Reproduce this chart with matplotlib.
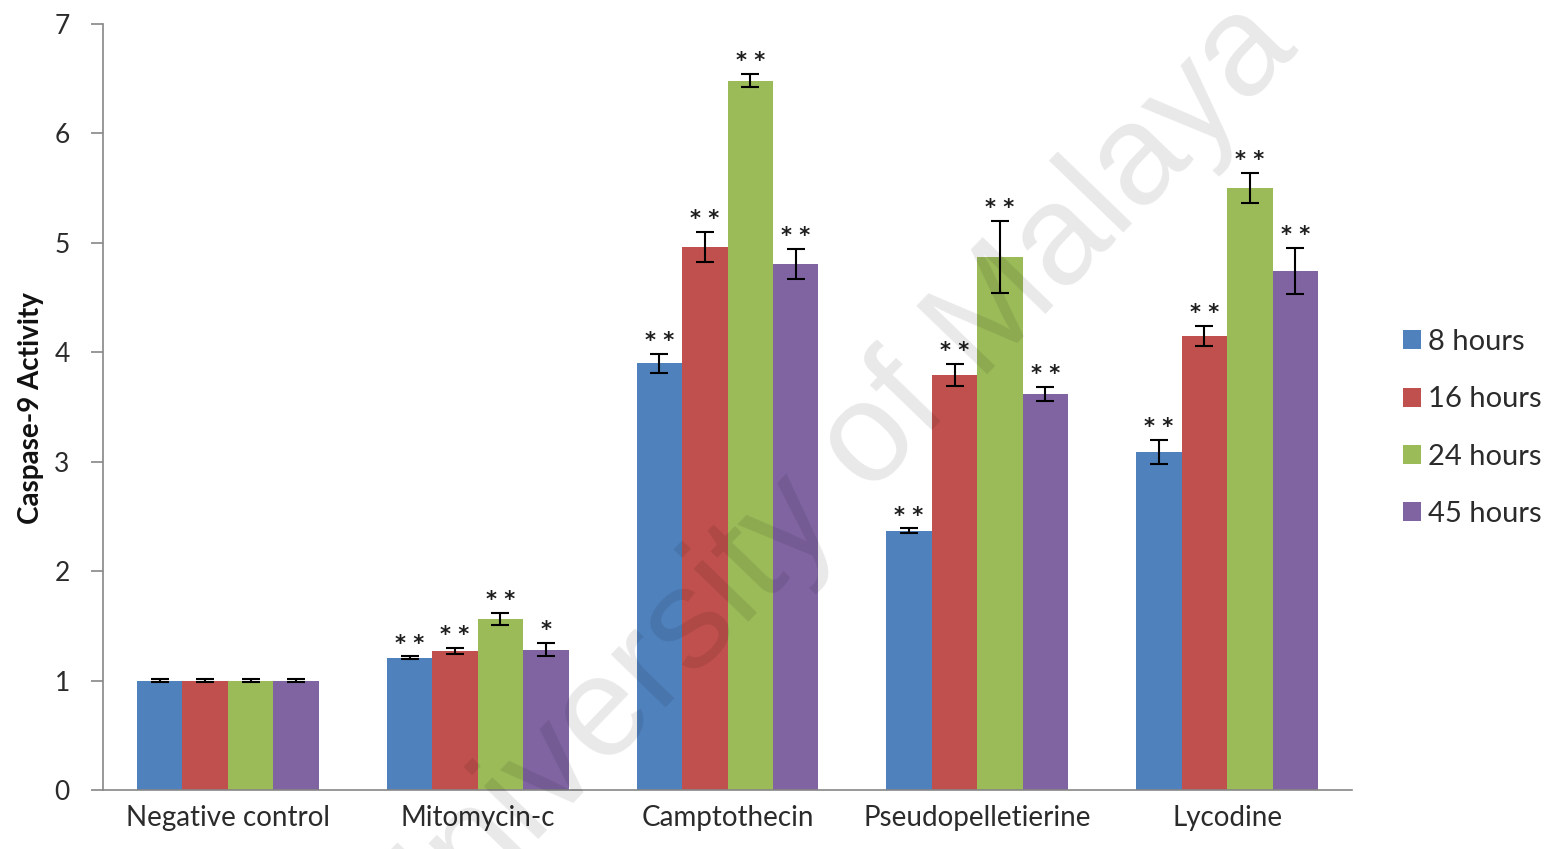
import matplotlib
matplotlib.use("Agg")
import matplotlib.pyplot as plt
import numpy as np

categories = ["Negative control", "Mitomycin-c", "Camptothecin", "Pseudopelletierine", "Lycodine"]
series_names = ["8 hours", "16 hours", "24 hours", "45 hours"]

# Caspase-9 activity per time point (one value per category)
h8 = [1.00, 1.21, 3.90, 2.37, 3.09]
h16 = [1.00, 1.27, 4.96, 3.79, 4.15]
h24 = [1.00, 1.56, 6.48, 4.87, 5.50]
h45 = [1.00, 1.28, 4.81, 3.62, 4.74]

# error bars
h8_err = [0.01, 0.01, 0.087, 0.02, 0.11]
h16_err = [0.01, 0.026, 0.137, 0.10, 0.094]
h24_err = [0.01, 0.055, 0.06, 0.33, 0.137]
h45_err = [0.01, 0.06, 0.137, 0.067, 0.21]

# significance marks
h8_sig = ["", "**", "**", "**", "**"]
h16_sig = ["", "**", "**", "**", "**"]
h24_sig = ["", "**", "**", "**", "**"]
h45_sig = ["", "*", "**", "**", "**"]

y_ticks = [0, 1, 2, 3, 4, 5, 6, 7]

colors = ["#4F81BD", "#C0504D", "#9BBB59", "#8064A2"]
values = [h8, h16, h24, h45]
errors = [h8_err, h16_err, h24_err, h45_err]
sigs = [h8_sig, h16_sig, h24_sig, h45_sig]

font = "Lato"
text_color = "#2b2b2b"
fig = plt.figure(figsize=(15.52, 8.49), dpi=100)
ax = fig.add_axes([103 / 1552, 1 - 790 / 849, (1352 - 103) / 1552, (790 - 24) / 849])

x = np.arange(len(categories))
width = 0.182
for i, (vals, errs, sg, col, name) in enumerate(zip(values, errors, sigs, colors, series_names)):
    pos = x + (i - 1.5) * width
    ax.bar(pos, vals, width, color=col, label=name, zorder=2)
    ax.errorbar(pos, vals, yerr=errs, fmt="none", ecolor="black", elinewidth=1.5,
                capsize=6.5, capthick=1.5, zorder=3)
    for p, v, e, s in zip(pos, vals, errs, sg):
        if s:
            ax.annotate(" ".join(s), (p, v + e), xytext=(0, 5), textcoords="offset points",
                        ha="center", va="baseline", fontsize=15, fontweight="bold",
                        color="#1e1e1e", family="DejaVu Sans", zorder=4)

ax.set_xlim(-0.5, len(categories) - 0.5)
ax.set_ylim(0, 7)
ax.set_yticks(y_ticks)
ax.set_xticks(x)
ax.set_xticklabels(categories, fontsize=20, family=font, color=text_color)
ax.tick_params(axis="x", length=0, pad=11)
ax.tick_params(axis="y", direction="out", length=9, width=1.2, color="#868686",
               labelsize=19, labelcolor=text_color, pad=15)
for lbl in ax.get_yticklabels():
    lbl.set_family(font)

for side in ["top", "right"]:
    ax.spines[side].set_visible(False)
for side in ["left", "bottom"]:
    ax.spines[side].set_color("#868686")
    ax.spines[side].set_linewidth(1.2)

fig.text(31 / 1552, 1 - 408 / 849, "Caspase-9 Activity", rotation=90, ha="center", va="center",
         fontsize=20, fontweight="bold", family=font, color="#111111")

leg = ax.legend(loc="center left", bbox_to_anchor=(1403 / 1552, 1 - 428 / 849),
                bbox_transform=fig.transFigure, frameon=False, fontsize=21,
                handlelength=0.62, handleheight=0.62, handletextpad=0.25,
                labelspacing=1.07, borderpad=0, borderaxespad=0)
for t in leg.get_texts():
    t.set_family(font)
    t.set_color(text_color)

# repository watermark
fig.text(826 / 1552, 1 - 488 / 849, "University of Malaya", rotation=46, ha="center", va="center",
         fontsize=103, family="Liberation Sans", color="black", alpha=0.09, zorder=10)

fig.savefig("out.png", dpi=100, facecolor="white")
